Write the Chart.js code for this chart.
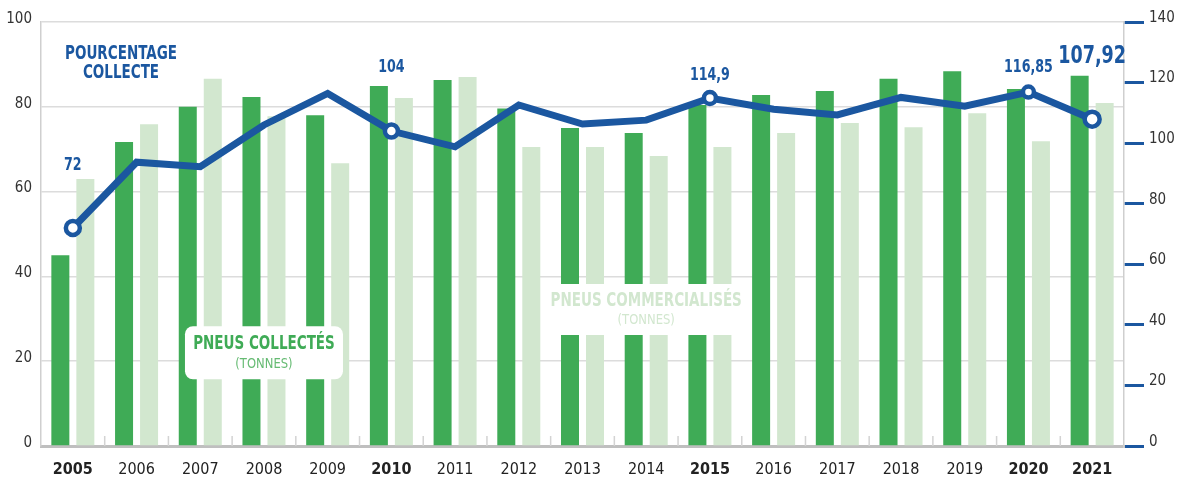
<!DOCTYPE html>
<html lang="fr">
<head>
<meta charset="utf-8">
<title>Pneus collectés et commercialisés</title>
<script src="https://cdn.jsdelivr.net/npm/chart.js@4.4.1/dist/chart.umd.min.js"></script>
<style>
  html, body { margin: 0; padding: 0; background: #fff; }
  #chart { display: block; }
</style>
</head>
<body>
<canvas id="chart" width="1179" height="482"></canvas>
<script>
// years on the x axis
const years = ["2005", "2006", "2007", "2008", "2009", "2010", "2011", "2012", "2013",
               "2014", "2015", "2016", "2017", "2018", "2019", "2020", "2021"];
// tonnes (left axis)
const collected = [45, 71.7, 80, 82.3, 78, 84.9, 86.3, 79.6, 75, 73.8, 80.4, 82.8, 83.7, 86.6, 88.4, 84.2, 87.3];
const marketed  = [63, 75.9, 86.6, 77.8, 66.7, 82.1, 87, 70.5, 70.5, 68.4, 70.5, 73.8, 76.2, 75.2, 78.5, 71.9, 80.9];
// collection rate in % (right axis)
const rate = [72, 93.7, 92.2, 106, 116.4, 104, 98.8, 112.6, 106.3, 107.6, 114.9, 111.2, 109.3, 115.1, 112.2, 116.85, 107.92];
const leftTicks  = [0, 20, 40, 60, 80, 100];
const rightTicks = [0, 20, 40, 60, 80, 100, 120, 140];
const keyYears = ["2005", "2010", "2015", "2020", "2021"];

const FONT = '"Liberation Sans Narrow", "DejaVu Sans Condensed", "Roboto", sans-serif';
const BLUE = "#1b57a0";
const GREEN = "#3fab56";
const LIGHT = "#d2e7cf";

// per-year marker size and how high the value label sits above the point
const markerRadius = { "2005": 7, "2010": 6.5, "2015": 6, "2020": 5.5, "2021": 7.5 };
const labelLift = { "2005": 63, "2010": 64, "2015": 23, "2020": 25, "2021": 63 };
const labelSize = { "2021": 25 };

const boxes = [
  { title: "PNEUS COLLECTÉS", sub: "(TONNES)", year: "2008", level: 22, w: 158, h: 53,
    color: GREEN, subColor: "#66bb73", radius: 8 },
  { title: "PNEUS COMMERCIALISÉS", sub: "(TONNES)", year: "2014", level: 32.2, w: 204, h: 51,
    color: LIGHT, subColor: LIGHT, radius: 0 }
];

// condensed lettering: squeeze the glyphs horizontally around the anchor point
function narrowText(ctx, text, x, y, squeeze) {
  ctx.save();
  ctx.translate(x, y);
  ctx.scale(squeeze, 1);
  ctx.fillText(text, 0, 0);
  ctx.restore();
}

function roundRect(ctx, x, y, w, h, r) {
  ctx.beginPath();
  ctx.moveTo(x + r, y);
  ctx.arcTo(x + w, y, x + w, y + h, r);
  ctx.arcTo(x + w, y + h, x, y + h, r);
  ctx.arcTo(x, y + h, x, y, r);
  ctx.arcTo(x, y, x + w, y, r);
  ctx.closePath();
}

const overlay = {
  id: "overlay",
  beforeDatasetsDraw(chart) {
    // small marks between categories, standing on the baseline
    const { ctx, chartArea, scales: { x } } = chart;
    const step = x.getPixelForValue(1) - x.getPixelForValue(0);
    ctx.save();
    ctx.strokeStyle = "#d3d3d3";
    ctx.lineWidth = 1.5;
    ctx.beginPath();
    for (let i = 1; i < years.length; i++) {
      const px = x.getPixelForValue(i) - step / 2;
      ctx.moveTo(px, chartArea.bottom);
      ctx.lineTo(px, chartArea.bottom - 10);
    }
    ctx.stroke();
    ctx.restore();
  },
  beforeDatasetDraw(chart, args) {
    // legend boxes go over the bars but under the line
    if (args.index !== 0) return;
    const { ctx, scales: { x, y } } = chart;
    ctx.save();
    boxes.forEach(b => {
      const cx = x.getPixelForValue(years.indexOf(b.year));
      const cy = y.getPixelForValue(b.level);
      const top = cy - b.h / 2;
      ctx.fillStyle = "#fff";
      roundRect(ctx, cx - b.w / 2, top, b.w, b.h, b.radius);
      ctx.fill();
      ctx.textAlign = "center";
      ctx.textBaseline = "middle";
      ctx.fillStyle = b.color;
      ctx.font = "bold 20px " + FONT;
      narrowText(ctx, b.title, cx, top + b.h * 0.33, 0.75);
      ctx.fillStyle = b.subColor;
      ctx.font = "14px " + FONT;
      narrowText(ctx, b.sub, cx, top + b.h * 0.72, 0.92);
    });
    ctx.restore();
  },
  afterDatasetsDraw(chart) {
    const { ctx, chartArea } = chart;
    const meta = chart.getDatasetMeta(0);
    ctx.save();
    ctx.fillStyle = BLUE;
    ctx.textAlign = "center";
    ctx.textBaseline = "middle";
    // series title
    ctx.font = "bold 19px " + FONT;
    narrowText(ctx, "POURCENTAGE", chartArea.left + 80, chartArea.top + 32, 0.79);
    narrowText(ctx, "COLLECTE", chartArea.left + 80, chartArea.top + 51, 0.79);
    // value labels on the key years
    keyYears.forEach(yr => {
      const i = years.indexOf(yr);
      const pt = meta.data[i];
      ctx.font = "bold " + (labelSize[yr] || 18) + "px " + FONT;
      narrowText(ctx, String(rate[i]).replace(".", ","), pt.x, pt.y - labelLift[yr], 0.78);
    });
    ctx.restore();
  }
};

new Chart(document.getElementById("chart"), {
  data: {
    labels: years,
    datasets: [
      {
        type: "line",
        label: "Pourcentage collecte",
        data: rate,
        yAxisID: "y1",
        order: 0,
        borderColor: BLUE,
        borderWidth: 7,
        borderJoinStyle: "miter",
        tension: 0,
        pointRadius: years.map(yr => markerRadius[yr] || 0),
        pointBackgroundColor: "#fff",
        pointBorderColor: BLUE,
        pointBorderWidth: 4.5
      },
      {
        type: "bar",
        label: "Pneus collectés (tonnes)",
        data: collected,
        yAxisID: "y",
        order: 1,
        backgroundColor: GREEN,
        categoryPercentage: 0.785,
        barPercentage: 0.72
      },
      {
        type: "bar",
        label: "Pneus commercialisés (tonnes)",
        data: marketed,
        yAxisID: "y",
        order: 1,
        backgroundColor: LIGHT,
        categoryPercentage: 0.785,
        barPercentage: 0.72
      }
    ]
  },
  options: {
    responsive: false,
    animation: false,
    layout: { padding: { top: 22, left: 0, right: 0, bottom: 0 } },
    plugins: { legend: { display: false }, tooltip: { enabled: false } },
    scales: {
      x: {
        grid: { display: true, drawOnChartArea: false, drawTicks: false },
        border: { display: true, color: "#bfbfbf", width: 3 },
        ticks: {
          color: "#222",
          padding: 14,
          font: ctx => ({
            family: FONT,
            size: 16,
            weight: keyYears.includes(years[ctx.index]) ? "bold" : "normal"
          })
        },
        afterFit: s => { s.height = 36; }
      },
      y: {
        position: "left",
        min: 0,
        max: 100,
        afterBuildTicks: s => { s.ticks = leftTicks.map(v => ({ value: v })); },
        grid: { color: "#dcdcdc", lineWidth: 1.5, drawTicks: false },
        border: { display: true, color: "#cfcfcf", width: 1.5 },
        ticks: { color: "#333", padding: 9, labelOffset: -3, font: { family: FONT, size: 15 } },
        afterFit: s => { s.width = 41; }
      },
      y1: {
        position: "right",
        min: 0,
        max: 140,
        afterBuildTicks: s => { s.ticks = rightTicks.map(v => ({ value: v })); },
        grid: { drawOnChartArea: false, color: BLUE, lineWidth: 3, tickLength: 20 },
        border: { display: true, color: "#cfcfcf", width: 1.5 },
        ticks: { color: "#333", padding: 5, labelOffset: -4, font: { family: FONT, size: 15 } },
        afterFit: s => { s.width = 55; }
      }
    }
  },
  plugins: [overlay]
});
</script>
</body>
</html>
